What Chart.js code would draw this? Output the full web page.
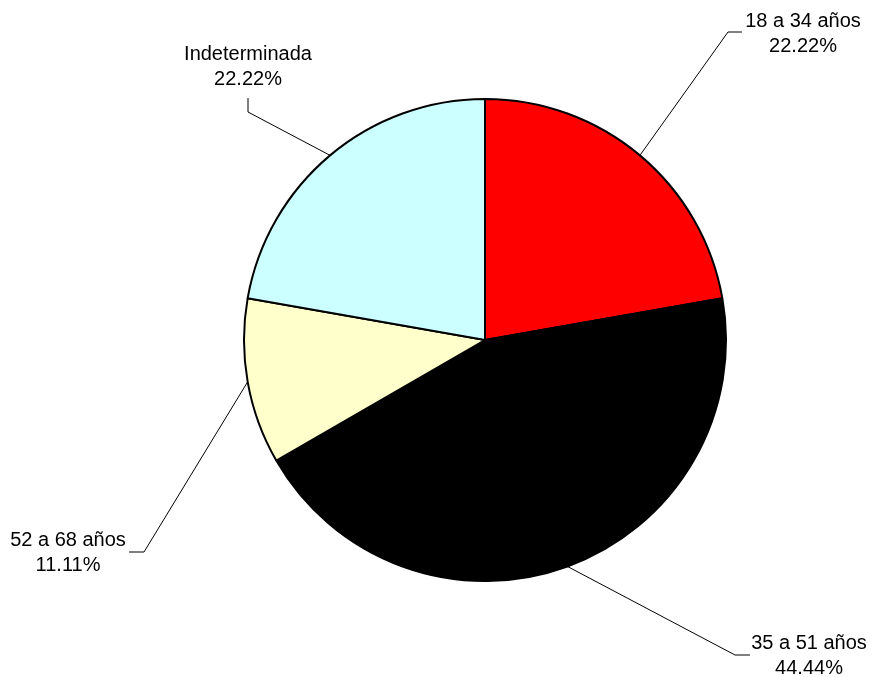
<!DOCTYPE html>
<html>
<head>
<meta charset="utf-8">
<script src="https://cdn.jsdelivr.net/npm/chart.js@4"></script>
<style>
  html, body { margin: 0; padding: 0; background: #fff; }
  #wrap { width: 873px; height: 677px; }
</style>
</head>
<body>
<div id="wrap"><canvas id="grafico"></canvas></div>
<script>
// Dados do gráfico
const categorias = ['18 a 34 años', '35 a 51 años', '52 a 68 años', 'Indeterminada'];
const valores = [22.22, 44.44, 11.11, 22.22];
const cores = ['#FF0000', '#000000', '#FFFFCC', '#CCFFFF'];

// Posição das etiquetas: cotovelo da linha, fim da linha, centro do texto
const etiquetas = [
  { cot: [728, 32], fim: [742, 32], txt: [803, 21] },
  { cot: [735, 655], fim: [750, 655], txt: [809, 643] },
  { cot: [144, 552], fim: [129, 552], txt: [68, 540] },
  { cot: [248, 112], fim: [248, 98], txt: [248, 54] }
];

// Plugin para desenhar as linhas de chamada e os textos
const chamadas = {
  id: 'chamadas',
  afterDraw(chart) {
    const ctx = chart.ctx;
    const meta = chart.getDatasetMeta(0);
    ctx.save();
    meta.data.forEach((arc, i) => {
      const p = arc.getProps(['x', 'y', 'startAngle', 'endAngle', 'outerRadius'], true);
      const meio = (p.startAngle + p.endAngle) / 2;
      const x0 = p.x + p.outerRadius * Math.cos(meio);
      const y0 = p.y + p.outerRadius * Math.sin(meio);
      const e = etiquetas[i];
      ctx.strokeStyle = '#000';
      ctx.lineWidth = 1;
      ctx.beginPath();
      ctx.moveTo(x0, y0);
      ctx.lineTo(e.cot[0], e.cot[1]);
      ctx.lineTo(e.fim[0], e.fim[1]);
      ctx.stroke();

      ctx.fillStyle = '#000';
      ctx.font = '20px "Liberation Sans", Arial, sans-serif';
      ctx.textAlign = 'center';
      ctx.textBaseline = 'middle';
      ctx.fillText(categorias[i], e.txt[0], e.txt[1]);
      ctx.fillText(valores[i].toFixed(2) + '%', e.txt[0], e.txt[1] + 25);
    });
    ctx.restore();
  }
};

new Chart(document.getElementById('grafico'), {
  type: 'pie',
  data: {
    labels: categorias,
    datasets: [{
      data: valores,
      backgroundColor: cores,
      borderColor: '#000',
      borderWidth: 2
    }]
  },
  options: {
    responsive: true,
    maintainAspectRatio: false,
    animation: false,
    layout: { padding: { left: 243, right: 146, top: 98, bottom: 95 } },
    plugins: {
      legend: { display: false },
      tooltip: { enabled: false }
    }
  },
  plugins: [chamadas]
});
</script>
</body>
</html>
